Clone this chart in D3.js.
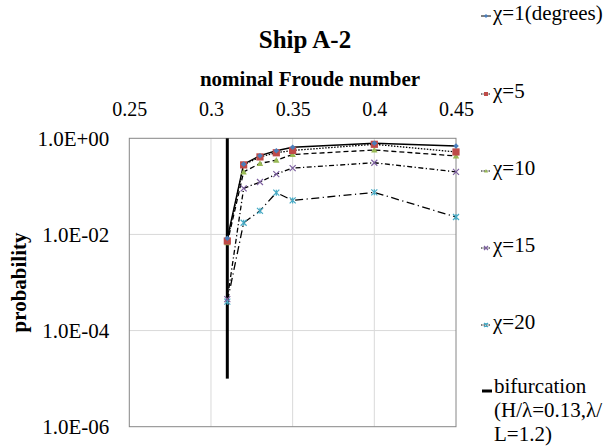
<!DOCTYPE html>
<html lang="en">

<head>
    <meta charset="UTF-8">
    <title>Ship A-2</title>
    <style>
        body { margin: 0; background: #fff; }
    </style>
</head>

<body>
    <script src="https://d3js.org/d3.v7.min.js"></script>
    <script>
        // data
        const froude = [0.31, 0.32, 0.33, 0.34, 0.35, 0.40, 0.45];
        const chi1 = [0.0083, 0.29, 0.435, 0.55, 0.65, 0.79, 0.69];
        const chi5 = [0.0073, 0.28, 0.41, 0.50, 0.56, 0.75, 0.52];
        const chi10 = [0.0067, 0.20, 0.30, 0.35, 0.46, 0.57, 0.43];
        const chi15 = [0.00045, 0.091, 0.123, 0.18, 0.24, 0.31, 0.20];
        const chi20 = [0.0004, 0.0175, 0.031, 0.074, 0.051, 0.075, 0.023];
        const seriesNames = ["\u03c7=1(degrees)", "\u03c7=5", "\u03c7=10", "\u03c7=15", "\u03c7=20"];
        const bifurcationFn = 0.31;
        const bifurcationRange = [1e-5, 1];
        const bifurcationLabel = ["bifurcation", "(H/\u03bb=0.13,\u03bb/", "L=1.2)"];
        const xTicks = [0.25, 0.3, 0.35, 0.4, 0.45];
        const xTickLabels = ["0.25", "0.3", "0.35", "0.4", "0.45"];
        const yTicks = [1, 1e-2, 1e-4, 1e-6];

        const width = 611;
        const height = 448;
        const plot = { left: 129.3, right: 456, top: 138.3, bottom: 426.7 };
        const serif = '"Liberation Serif", "Times New Roman", Times, serif';

        const styles = [
            { color: "#4a7ebb", dash: null, marker: "diamond" },
            { color: "#be4b48", dash: "1.5,1.5", marker: "square" },
            { color: "#98b954", dash: "5,3", marker: "triangle" },
            { color: "#7d60a0", dash: "5,2.5,1.2,2.5", marker: "cross" },
            { color: "#46aac5", dash: "8,3.5,1.2,3.5", marker: "star" }
        ];
        const series = [chi1, chi5, chi10, chi15, chi20];

        const svg = d3.select("body").append("svg")
            .attr("width", width)
            .attr("height", height);

        let x = d3.scaleLinear().domain([0.25, 0.45]).range([plot.left, plot.right]);
        let y = d3.scaleLog().domain([1e-6, 1]).range([plot.bottom, plot.top]);

        // gridlines
        svg.append("g").selectAll("line")
            .data(xTicks.slice(1, -1))
            .enter().append("line")
            .attr("x1", d => x(d)).attr("x2", d => x(d))
            .attr("y1", plot.top).attr("y2", plot.bottom)
            .attr("stroke", "#d9d9d9").attr("stroke-width", 1);
        svg.append("g").selectAll("line")
            .data(yTicks.slice(1, -1))
            .enter().append("line")
            .attr("x1", plot.left).attr("x2", plot.right)
            .attr("y1", d => y(d)).attr("y2", d => y(d))
            .attr("stroke", "#d9d9d9").attr("stroke-width", 1);

        svg.append("rect")
            .attr("x", plot.left).attr("y", plot.top)
            .attr("width", plot.right - plot.left).attr("height", plot.bottom - plot.top)
            .attr("fill", "none").attr("stroke", "#868686").attr("stroke-width", 1);

        // axes
        let xAxis = svg.append("g")
            .attr("transform", `translate(0, ${plot.top - 19})`)
            .call(d3.axisTop(x).tickValues(xTicks).tickSize(0)
                .tickFormat((d, i) => xTickLabels[i]));
        xAxis.select(".domain").remove();
        xAxis.selectAll("text")
            .style("font-family", serif).style("font-size", "20px")
            .attr("fill", "#000");

        const expFmt = d => {
            const e = Math.round(Math.log10(d));
            return "1.0E" + (e >= 0 ? "+" : "-") + String(Math.abs(e)).padStart(2, "0");
        };
        let yAxis = svg.append("g")
            .attr("transform", `translate(${plot.left - 20}, 0)`)
            .call(d3.axisLeft(y).tickValues(yTicks).tickSize(0).tickFormat(expFmt));
        yAxis.select(".domain").remove();
        yAxis.selectAll("text")
            .style("font-family", serif).style("font-size", "21px")
            .attr("fill", "#000")
            .attr("x", 0);

        // titles
        svg.append("text")
            .attr("x", 305).attr("y", 48)
            .attr("text-anchor", "middle")
            .style("font-family", serif).style("font-size", "25px").style("font-weight", "bold")
            .text("Ship A-2");
        svg.append("text")
            .attr("x", 310).attr("y", 86)
            .attr("text-anchor", "middle")
            .style("font-family", serif).style("font-size", "21px").style("font-weight", "bold")
            .text("nominal Froude number");
        svg.append("text")
            .attr("transform", `translate(26, ${(plot.top + plot.bottom) / 2}) rotate(-90)`)
            .attr("text-anchor", "middle")
            .style("font-family", serif).style("font-size", "21px").style("font-weight", "bold")
            .text("probability");

        // markers
        function drawMarker(g, type, color, size) {
            const s = size;
            if (type === "diamond") {
                g.append("path").attr("d", `M0,${-s}L${s},0L0,${s}L${-s},0Z`).attr("fill", color);
            } else if (type === "square") {
                g.append("rect").attr("x", -s).attr("y", -s).attr("width", 2 * s).attr("height", 2 * s)
                    .attr("fill", color);
            } else if (type === "triangle") {
                g.append("path").attr("d", `M0,${-s}L${s},${s * 0.8}L${-s},${s * 0.8}Z`).attr("fill", color);
            } else if (type === "cross") {
                g.append("path").attr("d", `M${-s},${-s}L${s},${s}M${-s},${s}L${s},${-s}`)
                    .attr("stroke", color).attr("stroke-width", 1.2);
            } else {
                g.append("path").attr("d", `M${-s},${-s}L${s},${s}M${-s},${s}L${s},${-s}M0,${-s}L0,${s}`)
                    .attr("stroke", color).attr("stroke-width", 1.2);
            }
        }
        const markerSize = [2.8, 3.6, 3.2, 3, 3];

        let line = d3.line()
            .x((d, i) => x(froude[i]))
            .y(d => y(d));

        series.forEach((vals, k) => {
            svg.append("path")
                .datum(vals)
                .attr("d", line)
                .attr("fill", "none")
                .attr("stroke", "#000")
                .attr("stroke-width", k === 0 ? 1.4 : 1.3)
                .attr("stroke-dasharray", styles[k].dash);
        });

        // bifurcation line
        svg.append("line")
            .attr("x1", x(bifurcationFn)).attr("x2", x(bifurcationFn))
            .attr("y1", y(bifurcationRange[0])).attr("y2", y(bifurcationRange[1]))
            .attr("stroke", "#000").attr("stroke-width", 3);

        // markers drawn last series first so the upper series sit on top
        series.slice().reverse().forEach((vals, r) => {
            const k = series.length - 1 - r;
            svg.append("g").selectAll("g")
                .data(vals)
                .enter().append("g")
                .attr("transform", (d, i) => `translate(${x(froude[i])}, ${y(d)})`)
                .each(function () { drawMarker(d3.select(this), styles[k].marker, styles[k].color, markerSize[k]); });
        });

        // legend
        const legendX = 481;
        const legendBase = [20, 98, 175, 252, 329];
        seriesNames.forEach((name, k) => {
            let g = svg.append("g").attr("transform", `translate(${legendX}, ${legendBase[k]})`);
            g.append("line").attr("x1", 0).attr("x2", 10).attr("y1", -4).attr("y2", -4)
                .attr("stroke", "#000").attr("stroke-width", 1)
                .attr("stroke-dasharray", styles[k].dash ? "1.5,1" : null);
            let m = g.append("g").attr("transform", "translate(5, -4)");
            drawMarker(m, styles[k].marker, styles[k].color, 2);
            g.append("text").attr("x", 12).attr("y", 0)
                .style("font-family", serif).style("font-size", "21px")
                .text(name);
        });
        let bg = svg.append("g").attr("transform", `translate(${legendX}, 393)`);
        bg.append("line").attr("x1", 1).attr("x2", 11).attr("y1", -2).attr("y2", -2)
            .attr("stroke", "#000").attr("stroke-width", 3);
        bg.append("text")
            .style("font-family", serif).style("font-size", "21px")
            .selectAll("tspan")
            .data(bifurcationLabel)
            .enter().append("tspan")
            .attr("x", 13).attr("y", (d, i) => i * 24)
            .text(d => d);
    </script>
</body>

</html>
